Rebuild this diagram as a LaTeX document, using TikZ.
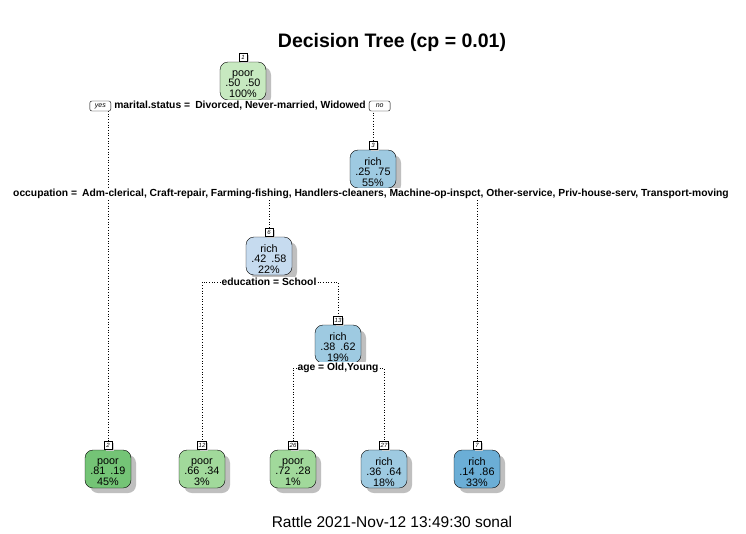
\documentclass[tikz,border=0pt]{standalone}
\usepackage{fontspec}
\setmainfont{Liberation Sans}
\usetikzlibrary{shadows,backgrounds}
\definecolor{g1}{HTML}{C7E9C0}
\definecolor{g2}{HTML}{74C476}
\definecolor{g3}{HTML}{A1D99B}
\definecolor{b1}{HTML}{C6DBEF}
\definecolor{b2}{HTML}{9ECAE1}
\definecolor{b3}{HTML}{6BAED6}
\tikzset{
  tnode/.style={draw, rounded corners=8pt, minimum width=46pt, minimum height=38pt,
    inner sep=0pt,
    general shadow={fill=black!25, shadow xshift=5pt, shadow yshift=-5pt}},
  ntext/.style={align=center, inner sep=0pt, font=\fontsize{10.8}{10.8}\selectfont},
  nlabel/.style={draw, fill=white, inner sep=1pt, minimum width=8pt, minimum height=8pt,
    font=\fontsize{6}{6}\selectfont\itshape,
    general shadow={fill=black!20, shadow xshift=2pt, shadow yshift=-1pt}},
  split/.style={fill=white, inner sep=1pt, font=\fontsize{10.3}{10.3}\selectfont\bfseries},
  yn/.style={draw, fill=white, rounded corners=2pt, inner sep=1pt, minimum height=10pt,
    minimum width=21pt, font=\fontsize{7}{7}\selectfont\itshape},
  edge/.style={dotted, line width=0.7pt}
}
\newcommand{\gp}{\hspace{5pt}}
\begin{document}
\begin{tikzpicture}[x=1pt, y=-1pt]
\useasboundingbox (0,0) rectangle (746,533);
% title and footer
\node[font=\fontsize{19.5}{19.5}\selectfont\bfseries] (title) at (392,42) {Decision Tree (cp = 0.01)};
\node[font=\fontsize{15.5}{15.5}\selectfont] (foot) at (392,522) {Rattle 2021-Nov-12 13:49:30 sonal};
% tree nodes
\foreach \n/\x/\y/\c/\a/\b/\p/\q in {
  n1/243/81/g1/poor/.50/.50/100,
  n3/373/169/b2/rich/.25/.75/55,
  n6/269/256/b1/rich/.42/.58/22,
  n13/338/344/b2/rich/.38/.62/19,
  n2/108/469/g2/poor/.81/.19/45,
  n12/202/469/g3/poor/.66/.34/3,
  n26/293/469/g3/poor/.72/.28/1,
  n27/384/469/b2/rich/.36/.64/18,
  n7/477/469/b3/rich/.14/.86/33}{
  \node[tnode, fill=\c] (\n) at (\x,\y) {};
  \node[ntext] (t\n) at ([yshift=-3pt]\n.center) {\a\\\b\gp\p\\\q\%};
}
% node number labels
\foreach \n/\t in {n1/1,n3/3,n6/6,n13/13,n2/2,n12/12,n26/26,n27/27,n7/7}
  \node[nlabel, anchor=south] (l\n) at (\n.north) {\t};
% split labels
\node[split] (s1) at (240,106) {marital.status =\enspace Divorced, Never-married, Widowed};
\node[yn, anchor=east] (yes) at ([xshift=-2pt]s1.west) {yes};
\node[yn, anchor=west] (no) at ([xshift=2pt]s1.east) {no};
\node[split] (s3) at (371,194) {occupation =\enspace Adm-clerical, Craft-repair, Farming-fishing, Handlers-cleaners, Machine-op-inspct, Other-service, Priv-house-serv, Transport-moving};
\node[split] (s6) at (269,282) {education = School};
\node[split] (s13) at (338,368) {age = Old,Young};
% connectors
\begin{scope}[on background layer]
\fill[white] (0,0) rectangle (746,533);
\draw[edge] (yes.east) -- (yes.east -| ln2) -- (ln2.north);
\draw[edge] (no.west) -- (no.west -| ln3) -- (ln3.north);
\draw[edge] (s3.south -| ln6) -- (ln6.north);
\draw[edge] (s3.south -| ln7) -- (ln7.north);
\draw[edge] (s6.west) -- (s6.west -| ln12) -- (ln12.north);
\draw[edge] (s6.east) -- (s6.east -| ln13) -- (ln13.north);
\draw[edge] (s13.west) -- (s13.west -| ln26) -- (ln26.north);
\draw[edge] (s13.east) -- (s13.east -| ln27) -- (ln27.north);
\end{scope}
\end{tikzpicture}
\end{document}
